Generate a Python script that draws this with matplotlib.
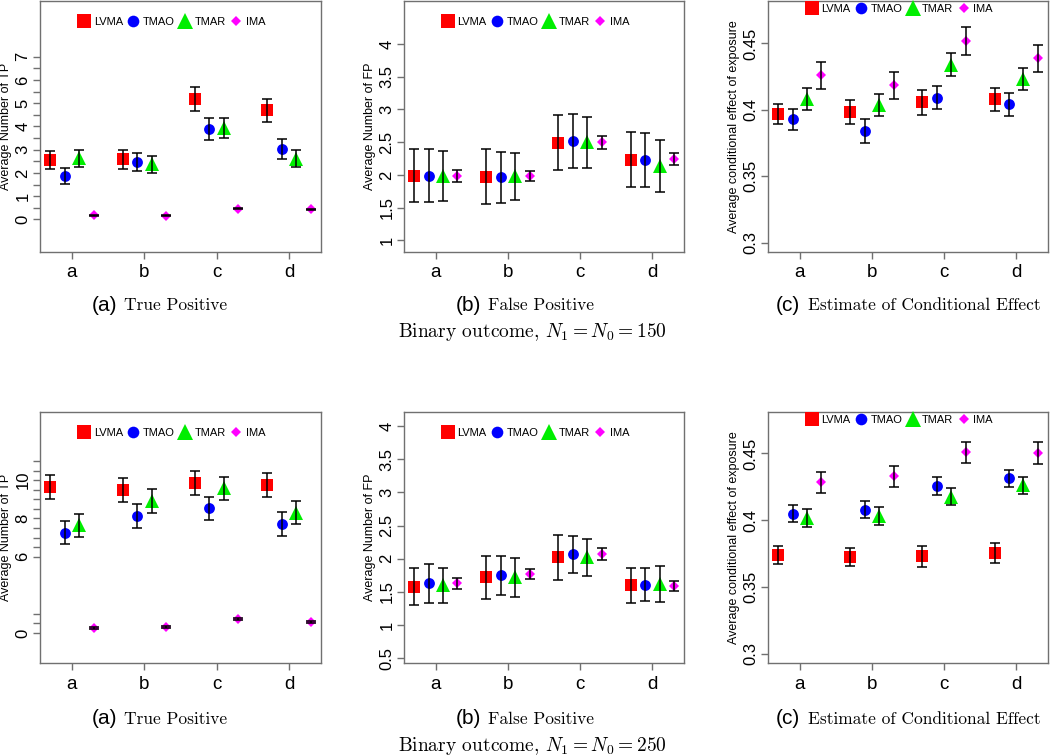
import numpy as np
import matplotlib
matplotlib.use("Agg")
import matplotlib.pyplot as plt
from matplotlib.lines import Line2D

plt.rcParams['font.family'] = ['Liberation Sans', 'DejaVu Sans']
plt.rcParams['mathtext.fontset'] = 'cm'

groups = ['a', 'b', 'c', 'd']
methods = ['LVMA', 'TMAO', 'TMAR', 'IMA']

# rows: LVMA, TMAO, TMAR, IMA ; columns: groups a-d
tp150_mean = [[2.55, 2.58, 5.19, 4.70],
              [1.87, 2.47, 3.89, 3.03],
              [2.63, 2.37, 3.94, 2.62],
              [0.17, 0.16, 0.47, 0.43]]
tp150_err = [[0.38, 0.39, 0.53, 0.50],
             [0.33, 0.38, 0.46, 0.43],
             [0.37, 0.37, 0.44, 0.37],
             [0.02, 0.02, 0.03, 0.03]]

fp150_mean = [[1.99, 1.97, 2.49, 2.23],
              [1.99, 1.96, 2.52, 2.23],
              [1.98, 1.98, 2.50, 2.14],
              [1.98, 1.98, 2.50, 2.24]]
fp150_err = [[0.40, 0.42, 0.42, 0.42],
             [0.40, 0.39, 0.41, 0.41],
             [0.38, 0.36, 0.39, 0.40],
             [0.09, 0.08, 0.10, 0.09]]

ce150_mean = [[0.3968, 0.3983, 0.4058, 0.4079],
              [0.3930, 0.3840, 0.4093, 0.4041],
              [0.4083, 0.4038, 0.4341, 0.4233],
              [0.4259, 0.4184, 0.4518, 0.4387]]
ce150_err = [[0.0074, 0.0088, 0.0095, 0.0089],
             [0.0080, 0.0088, 0.0090, 0.0088],
             [0.0083, 0.0084, 0.0084, 0.0082],
             [0.0100, 0.0100, 0.0107, 0.0103]]

tp250_mean = [[9.65, 9.48, 9.83, 9.77],
              [7.25, 8.12, 8.52, 7.70],
              [7.64, 8.90, 9.57, 8.30],
              [0.26, 0.31, 0.75, 0.57]]
tp250_err = [[0.61, 0.62, 0.63, 0.63],
             [0.59, 0.62, 0.62, 0.62],
             [0.60, 0.62, 0.62, 0.61],
             [0.05, 0.05, 0.06, 0.05]]

fp250_mean = [[1.58, 1.72, 2.02, 1.60],
              [1.63, 1.75, 2.07, 1.61],
              [1.60, 1.72, 2.02, 1.62],
              [1.63, 1.77, 2.07, 1.59]]
fp250_err = [[0.28, 0.32, 0.34, 0.26],
             [0.29, 0.29, 0.28, 0.245],
             [0.26, 0.29, 0.28, 0.27],
             [0.085, 0.08, 0.09, 0.08]]

ce250_mean = [[0.3740, 0.3725, 0.3728, 0.3755],
              [0.4049, 0.4079, 0.4256, 0.4313],
              [0.4017, 0.4032, 0.4177, 0.4261],
              [0.4283, 0.4328, 0.4507, 0.4502]]
ce250_err = [[0.0067, 0.0067, 0.0082, 0.0077],
             [0.0064, 0.0065, 0.0065, 0.0064],
             [0.0065, 0.0065, 0.0064, 0.0065],
             [0.0080, 0.0080, 0.0082, 0.0080]]

colors = ['#ff0000', '#0000ff', '#00ee00', '#ff00ff']
marks = ['s', 'o', '^', 'D']
msizes = [8.4, 7.8, 10.5, 4.6]
leg_sizes = [9.4, 8.4, 12, 5.2]
offsets = [-0.3, -0.1, 0.1, 0.3]
frame_col = '#707070'


def tp_shift(v):
    # the TP axis for N=250 is broken: values below 1 are drawn 2 units up
    return v + 2 if v <= 1 else v


def draw_panel(ax, means, errs, ylim, ticks, labels, ylabel, leg_y, shift=None):
    x0 = np.arange(1, len(groups) + 1)
    for i in range(len(methods)):
        y = np.array(means[i], dtype=float)
        if shift is not None:
            y = np.array([shift(v) for v in y])
        xs = x0 + offsets[i]
        ax.plot(xs, y, linestyle='none', marker=marks[i], color=colors[i],
                markersize=msizes[i], markeredgewidth=0, zorder=2)
        ax.errorbar(xs, y, yerr=errs[i], fmt='none', ecolor='black',
                    elinewidth=1.1, capsize=3.6, capthick=1.1, zorder=3)
    ax.set_xlim(0.56, 4.44)
    ax.set_ylim(*ylim)
    ax.set_xticks(x0)
    ax.set_xticklabels(groups, fontsize=13.5)
    ax.set_yticks(ticks)
    ax.set_yticklabels(labels, fontsize=12, rotation=90, va='center')
    for s in ax.spines.values():
        s.set_color(frame_col)
        s.set_linewidth(1.0)
    ax.tick_params(axis='both', colors=frame_col, labelcolor='black', length=5, width=1.0)
    ax.tick_params(axis='x', pad=4)
    ax.tick_params(axis='y', pad=2)
    ax.set_ylabel(ylabel, fontsize=9)
    ax.yaxis.set_label_coords(-0.1, 0.5)
    handles = [Line2D([], [], linestyle='none', marker=marks[i], color=colors[i],
                      markersize=leg_sizes[i], markeredgewidth=0) for i in range(len(methods))]
    ax.legend(handles, methods, loc='center', bbox_to_anchor=(0.47, leg_y), ncol=4,
              frameon=False, fontsize=8, handlelength=1.0, handletextpad=0.35,
              columnspacing=0.45, borderpad=0, borderaxespad=0)


def num_labels(ticks, keep=None):
    out = []
    for t in ticks:
        if keep is None or abs(t - round(t)) < 1e-9:
            out.append(f"{t:g}")
        else:
            out.append('')
    return out


fig = plt.figure(figsize=(10.5, 7.56), dpi=100)
lefts = [0.0381, 0.3848, 0.7314]
widths = [0.2676, 0.2667, 0.2667]
rows = [0.6667, 0.123]
h = 0.332

# top row, N = 150
ax = fig.add_axes([lefts[0], rows[0], widths[0], h])
t = np.arange(0, 7.01, 0.5)
draw_panel(ax, tp150_mean, tp150_err, (-1.4, 9.4), t, num_labels(t, keep='int'),
           'Average Number of TP', 0.916)

ax = fig.add_axes([lefts[1], rows[0], widths[1], h])
t = np.arange(1, 4.01, 0.5)
draw_panel(ax, fp150_mean, fp150_err, (0.82, 4.66), t, num_labels(t),
           'Average Number of FP', 0.916)

ax = fig.add_axes([lefts[2], rows[0], widths[2], h])
t = [0.3, 0.35, 0.4, 0.45]
draw_panel(ax, ce150_mean, ce150_err, (0.293, 0.482), t, num_labels(t),
           'Average conditional effect of exposure', 0.968)

# bottom row, N = 250
ax = fig.add_axes([lefts[0], rows[1], widths[0], h])
t = [0, 0.5, 1] + list(np.arange(6, 11.01, 0.5))
t_pos = [tp_shift(v) for v in t]
t_lab = ['0', '', ''] + ['6' if v == 6 else '8' if v == 8 else '10' if v == 10 else '' for v in t[3:]]
draw_panel(ax, tp250_mean, tp250_err, (0.43, 13.57), t_pos, t_lab,
           'Average Number of TP', 0.916, shift=tp_shift)

ax = fig.add_axes([lefts[1], rows[1], widths[1], h])
t = np.arange(0.5, 4.01, 0.5)
draw_panel(ax, fp250_mean, fp250_err, (0.43, 4.21), t, num_labels(t),
           'Average Number of FP', 0.916)

ax = fig.add_axes([lefts[2], rows[1], widths[2], h])
t = [0.3, 0.35, 0.4, 0.45]
draw_panel(ax, ce250_mean, ce250_err, (0.293, 0.481), t, num_labels(t),
           'Average conditional effect of exposure', 0.968)

# captions
tags = ['(a)', '(b)', '(c)']
titles = ['True Positive', 'False Positive', 'Estimate of Conditional Effect']
cap_x = [92, 456, 776]
for y_px, n in [(305, 150), (719, 250)]:
    for tag, title, xl in zip(tags, titles, cap_x):
        fig.text(xl / 1050, 1 - y_px / 756, tag, fontsize=15, ha='left', va='center')
        fig.text((xl + 32) / 1050, 1 - y_px / 756, title, family='cmr10',
                 fontsize=12.5, ha='left', va='center')
    fig.text(0.507, 1 - (y_px + 27) / 756, r'Binary outcome, $N_1 = N_0 = %d$' % n,
             family='cmr10', fontsize=14, ha='center', va='center')

fig.savefig('out.png', dpi=100)
